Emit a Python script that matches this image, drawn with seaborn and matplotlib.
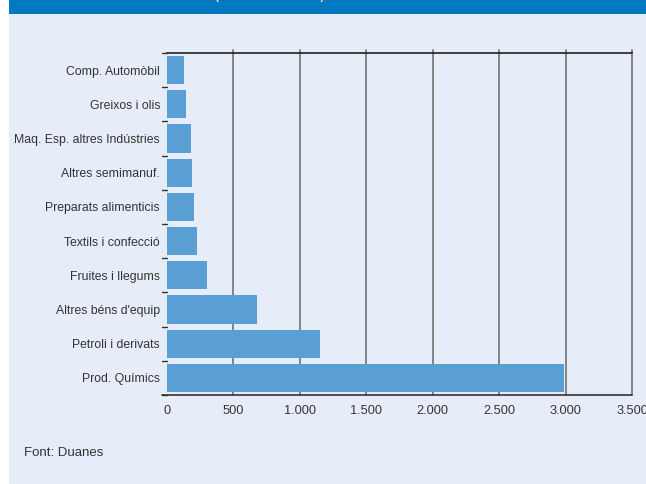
import matplotlib.pyplot as plt
import matplotlib.patches as mpatches
import pandas as pd
import seaborn as sns

categories = ['Comp. Automòbil', 'Greixos i olis', 'Maq. Esp. altres Indústries',
              'Altres semimanuf.', 'Preparats alimenticis', 'Textils i confecció',
              'Fruites i llegums', "Altres béns d'equip", 'Petroli i derivats',
              'Prod. Químics']
values = [130, 142, 180, 190, 205, 225, 300, 675, 1155, 2985]
xticks = [0, 500, 1000, 1500, 2000, 2500, 3000, 3500]
xtick_labels = ['0', '500', '1.000', '1.500', '2.000', '2.500', '3.000', '3.500']

df = pd.DataFrame({'cat': categories, 'val': values})

sns.set_style('white')
plt.rcParams['font.family'] = ['Liberation Sans', 'DejaVu Sans']

BG = '#e6edf8'
fig = plt.figure(figsize=(6.46, 4.84), dpi=100)
fig.patch.set_facecolor('white')
# light panel and top band
fig.patches.append(mpatches.Rectangle((9 / 646, 0), 1, 1, transform=fig.transFigure,
                                      facecolor=BG, edgecolor='none', zorder=-2))
fig.patches.append(mpatches.Rectangle((9 / 646, 1 - 14 / 484), 1, 14 / 484,
                                      transform=fig.transFigure, facecolor='#0079c1',
                                      edgecolor='none', zorder=-1))
fig.text(270 / 646, 1 + 5 / 484, "(milions d'euros)", color='white', fontsize=11,
         ha='center', va='center')

ax = fig.add_axes([167 / 646, 1 - 395 / 484, (632 - 167) / 646, (395 - 53) / 484])
ax.set_facecolor(BG)
sns.barplot(data=df, y='cat', x='val', orient='h', color='#5a9fd4', width=0.82,
            saturation=1, linewidth=0, edgecolor='none', ax=ax, zorder=3)

ax.set_xlim(0, 3500)
ax.set_ylim(9.5, -0.5)
ax.set_xticks(xticks)
ax.set_xticklabels(xtick_labels, fontsize=9.2, color='#333333')
ax.set_yticks(range(len(categories)))
ax.set_yticklabels(categories, fontsize=8.8, color='#333333')
ax.tick_params(axis='y', length=0, pad=5)
ax.tick_params(axis='x', length=5, width=1, color='#333333', direction='inout', pad=5)
ax.set_xlabel('')
ax.set_ylabel('')

for x in xticks[1:]:
    ax.axvline(x, ymin=0, ymax=1.01, color='#7a7a7a', lw=1.3, zorder=1, clip_on=False)
# small ticks between categories on the left
for b in [i + 0.5 for i in range(-1, 10)]:
    ax.plot([-35, 0], [b, b], color='#333333', lw=1, clip_on=False, zorder=4)

for s in ['right', 'bottom', 'left']:
    ax.spines[s].set_visible(False)
ax.spines['top'].set_color('#222222')
ax.spines['top'].set_linewidth(1.2)
ax.plot([-35, 3500], [9.5, 9.5], color='#333333', lw=1.2, zorder=5, clip_on=False)

fig.text(24 / 646, 1 - 453 / 484, 'Font: Duanes', fontsize=9.5, color='#333333',
         va='center')

fig.savefig('out.png', dpi=100)
